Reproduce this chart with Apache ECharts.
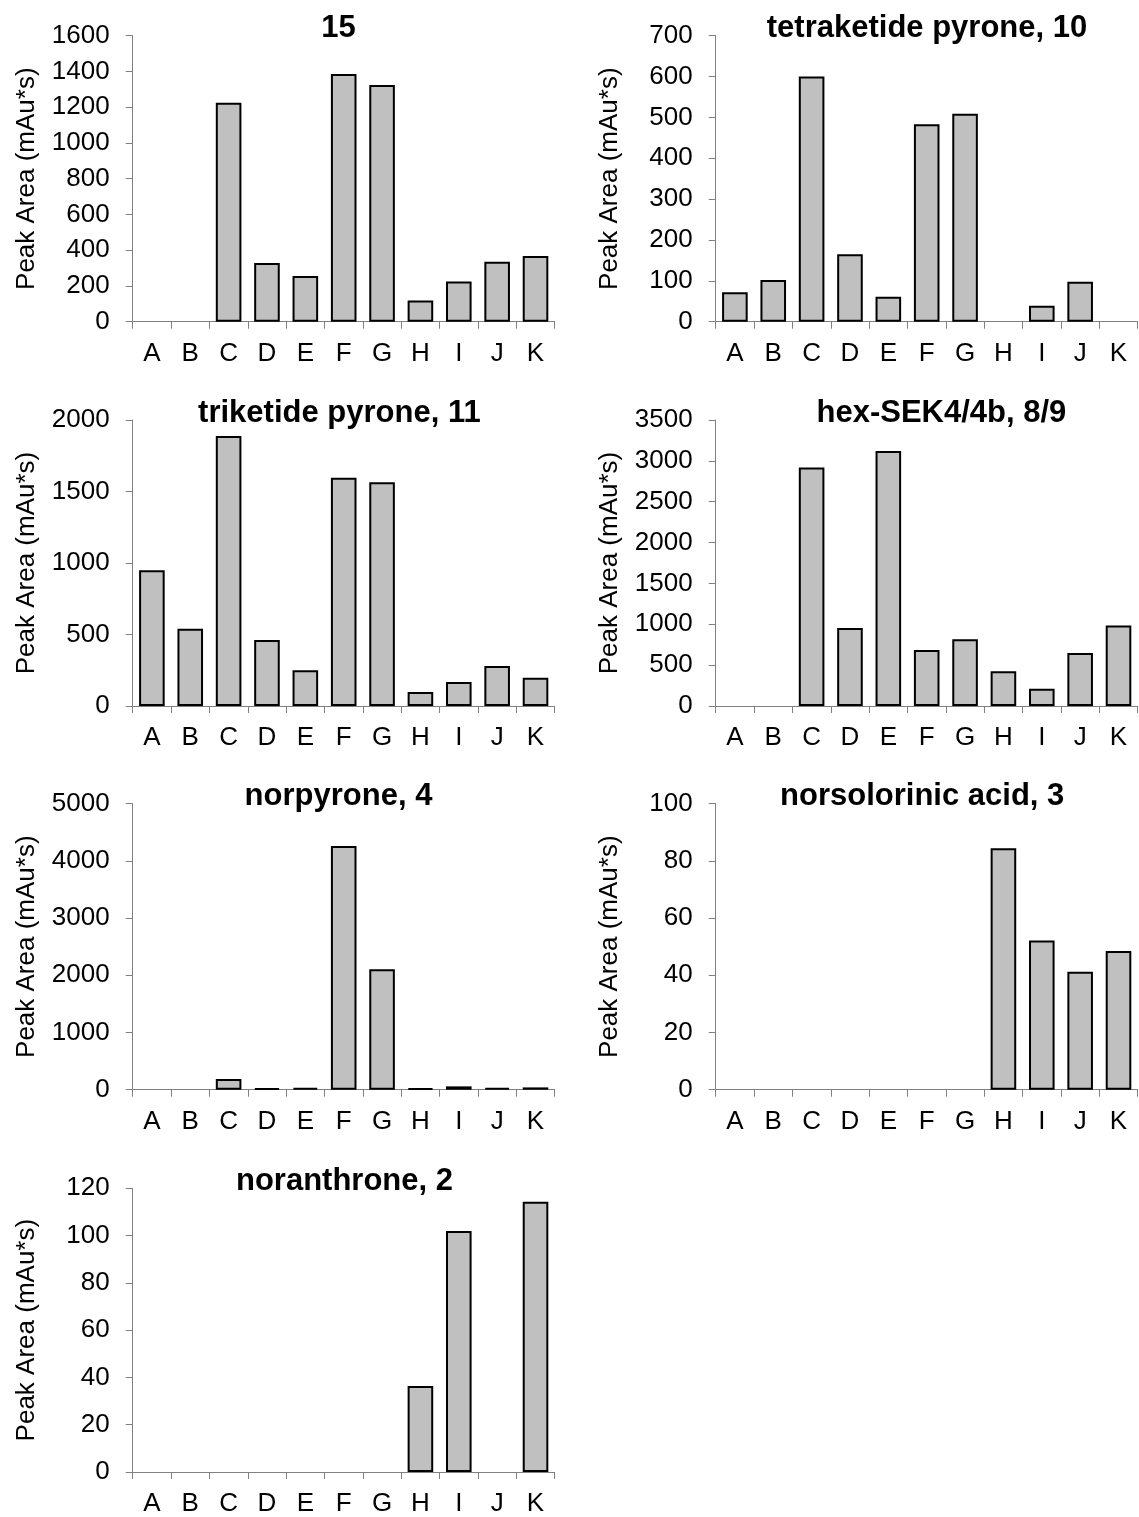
<!DOCTYPE html>
<html>
<head>
<meta charset="utf-8">
<script src="https://cdn.jsdelivr.net/npm/echarts@6/dist/echarts.min.js"></script>
<style>
  html, body { margin: 0; padding: 0; background: #ffffff; }
  #chart { width: 1139px; height: 1517px; }
</style>
</head>
<body>
<div id="chart"></div>
<script>
// Sample lanes shared by every panel
const categories = ['A', 'B', 'C', 'D', 'E', 'F', 'G', 'H', 'I', 'J', 'K'];

// Peak areas (mAu*s) per compound, one value per lane
const compound15 = [0, 0, 1225, 328, 255, 1386, 1324, 119, 225, 335, 367];
const tetraketidePyrone = [72, 102, 600, 165, 61, 483, 509, 0, 39, 98, 0];
const triketidePyrone = [950, 541, 1888, 462, 250, 1596, 1564, 98, 168, 280, 198];
const hexSEK4 = [0, 0, 2920, 956, 3120, 686, 817, 425, 212, 649, 984];
const norpyrone = [0, 0, 185, 23, 30, 4261, 2107, 23, 58, 30, 40];
const norsolorinicAcid = [0, 0, 0, 0, 0, 0, 0, 84.4, 52.2, 41.2, 48.5];
const noranthrone = [0, 0, 0, 0, 0, 0, 0, 36.4, 101.9, 0, 114.3];

const panelTitles = ['15', 'tetraketide pyrone, 10', 'triketide pyrone, 11',
  'hex-SEK4/4b, 8/9', 'norpyrone, 4', 'norsolorinic acid, 3', 'noranthrone, 2'];
const panelValues = [compound15, tetraketidePyrone, triketidePyrone, hexSEK4,
  norpyrone, norsolorinicAcid, noranthrone];

// Value axis ranges and tick steps
const axisMax = [1600, 700, 2000, 3500, 5000, 100, 120];
const axisStep = [200, 100, 500, 500, 1000, 20, 20];

const yAxisTitle = 'Peak Area (mAu*s)';

// Panel layout (px): two columns, four rows
const colLeft = [132.7, 715.7];
const plotWidth = 422;
const rowTop = [35.7, 420, 803.7, 1188.3];
const plotHeight = 286;
const titleCenterX = [338.5, 927, 339.4, 941.4, 338.5, 922.2, 344.5];

const FONT = '"Liberation Sans", Arial, Helvetica, sans-serif';
const AXIS_GREY = '#808080';

const grids = [], xAxes = [], yAxes = [], series = [], titles = [];

panelValues.forEach((vals, i) => {
  const col = i % 2;
  const row = Math.floor(i / 2);
  grids.push({
    left: colLeft[col], top: rowTop[row],
    width: plotWidth, height: plotHeight,
    containLabel: false
  });
  titles.push({
    text: panelTitles[i],
    left: titleCenterX[i],
    top: rowTop[row] - 23,
    textAlign: 'center',
    padding: 0,
    textStyle: { fontFamily: FONT, fontSize: 31, fontWeight: 'bold', color: '#000', lineHeight: 32 }
  });
  xAxes.push({
    type: 'category',
    gridIndex: i,
    data: categories,
    boundaryGap: true,
    axisLine: { show: true, lineStyle: { color: AXIS_GREY, width: 1 } },
    axisTick: { show: true, interval: 0, length: 7, lineStyle: { color: AXIS_GREY, width: 1 } },
    axisLabel: { interval: 0, margin: 19, color: '#000', fontFamily: FONT, fontSize: 26 },
    splitLine: { show: false }
  });
  yAxes.push({
    type: 'value',
    gridIndex: i,
    min: 0,
    max: axisMax[i],
    interval: axisStep[i],
    name: yAxisTitle,
    nameLocation: 'middle',
    nameGap: 93,
    nameRotate: 90,
    nameTextStyle: { fontFamily: FONT, fontSize: 26, color: '#000' },
    axisLine: { show: true, lineStyle: { color: AXIS_GREY, width: 1 } },
    axisTick: { show: true, length: 7, lineStyle: { color: AXIS_GREY, width: 1 } },
    axisLabel: {
      margin: 23, color: '#000', fontFamily: FONT, fontSize: 26,
      formatter: v => String(v)
    },
    splitLine: { show: false }
  });
  series.push({
    type: 'bar',
    xAxisIndex: i,
    yAxisIndex: i,
    // lanes with no detected peak are left empty
    data: vals.map(v => (v === 0 ? '-' : v)),
    barCategoryGap: '33.3%',
    itemStyle: { color: '#C0C0C0', borderColor: '#000000', borderWidth: 2 },
    emphasis: { disabled: true },
    animation: false
  });
});

const chart = echarts.init(document.getElementById('chart'), null, { renderer: 'canvas' });
chart.setOption({
  backgroundColor: '#ffffff',
  animation: false,
  title: titles,
  grid: grids,
  xAxis: xAxes,
  yAxis: yAxes,
  series: series
});
</script>
</body>
</html>
